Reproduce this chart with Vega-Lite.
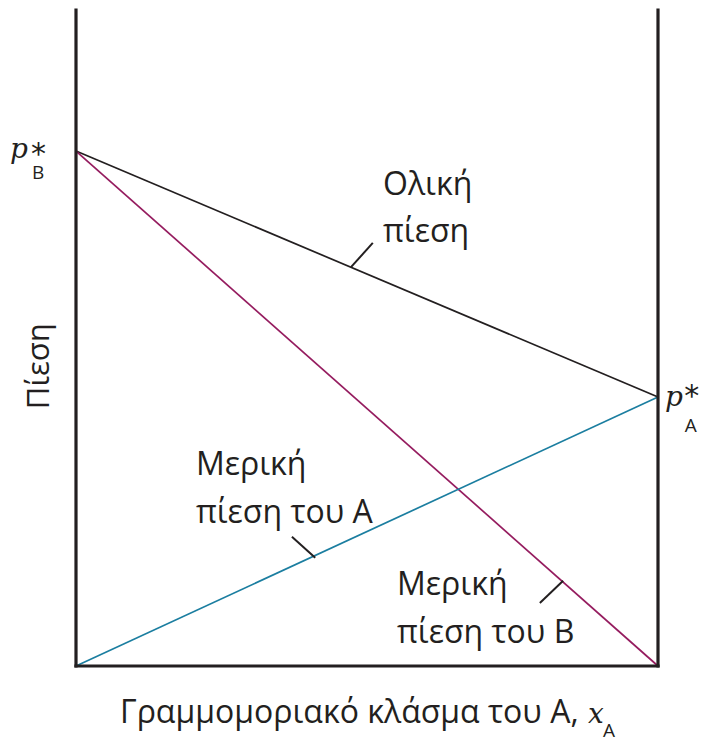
{
  "$schema": "https://vega.github.io/schema/vega-lite/v6.json",
  "width": 582,
  "height": 656,
  "autosize": {"type": "none"},
  "padding": {"left": 76, "top": 10, "right": 46, "bottom": 74},
  "background": "white",
  "config": {"view": {"stroke": null}},
  "datasets": {
    "curves": [
      {"curve": "total", "xA": 0, "p": 0.785},
      {"curve": "total", "xA": 1, "p": 0.41},
      {"curve": "B", "xA": 0, "p": 0.785},
      {"curve": "B", "xA": 1, "p": 0},
      {"curve": "A", "xA": 0, "p": 0},
      {"curve": "A", "xA": 1, "p": 0.41}
    ],
    "leaders": [
      {"id": "total", "xA": 0.4725, "p": 0.608},
      {"id": "total", "xA": 0.51, "p": 0.645},
      {"id": "A", "xA": 0.371, "p": 0.197},
      {"id": "A", "xA": 0.411, "p": 0.165},
      {"id": "B", "xA": 0.797, "p": 0.096},
      {"id": "B", "xA": 0.837, "p": 0.13}
    ],
    "sides": [{"xA": 0}, {"xA": 1}],
    "floor": [{"p": 0}],
    "labels": [
      {"text": "Ολική", "xA": 0.5275, "p": 0.718},
      {"text": "πίεση", "xA": 0.5275, "p": 0.646},
      {"text": "Μερική", "xA": 0.206, "p": 0.291},
      {"text": "πίεση του A", "xA": 0.206, "p": 0.218},
      {"text": "Μερική", "xA": 0.5515, "p": 0.108},
      {"text": "πίεση του B", "xA": 0.5515, "p": 0.035},
      {"text": "Γραμμομοριακό κλάσμα του A,", "xA": 0.0756, "p": -0.0869}
    ],
    "symbols": [
      {"text": "p", "xA": -0.1134, "p": 0.774},
      {"text": "p", "xA": 1.012, "p": 0.396},
      {"text": "x", "xA": 0.8797, "p": -0.0869}
    ],
    "stars": [
      {"text": "*", "xA": -0.0773, "p": 0.765},
      {"text": "*", "xA": 1.045, "p": 0.396}
    ],
    "subscripts": [
      {"text": "B", "xA": -0.0756, "p": 0.742},
      {"text": "A", "xA": 1.046, "p": 0.357},
      {"text": "A", "xA": 0.9055, "p": -0.108}
    ],
    "ytitle": [{"text": "Πίεση", "xA": -0.0464, "p": 0.457}]
  },
  "layer": [
    {
      "data": {"name": "curves"},
      "mark": {"type": "line", "strokeWidth": 1.7},
      "encoding": {
        "x": {"field": "xA", "type": "quantitative", "scale": {"domain": [0, 1], "nice": false, "zero": false}, "axis": null},
        "y": {"field": "p", "type": "quantitative", "scale": {"domain": [0, 1], "nice": false, "zero": false}, "axis": null},
        "color": {"field": "curve", "type": "nominal", "scale": {"domain": ["total", "A", "B"], "range": ["#231f20", "#1b7ea0", "#951c5f"]}, "legend": null}
      }
    },
    {
      "data": {"name": "leaders"},
      "mark": {"type": "line", "strokeWidth": 2, "color": "#231f20"},
      "encoding": {
        "x": {"field": "xA", "type": "quantitative"},
        "y": {"field": "p", "type": "quantitative"},
        "detail": {"field": "id"}
      }
    },
    {
      "data": {"name": "sides"},
      "mark": {"type": "rule", "strokeWidth": 3.2, "color": "#231f20", "strokeCap": "square"},
      "encoding": {"x": {"field": "xA", "type": "quantitative"}}
    },
    {
      "data": {"name": "floor"},
      "mark": {"type": "rule", "strokeWidth": 3.2, "color": "#231f20", "strokeCap": "square"},
      "encoding": {"y": {"field": "p", "type": "quantitative"}}
    },
    {
      "data": {"name": "labels"},
      "mark": {"type": "text", "align": "left", "baseline": "alphabetic", "font": "Open Sans", "fontSize": 32, "color": "#231f20"},
      "encoding": {
        "x": {"field": "xA", "type": "quantitative"},
        "y": {"field": "p", "type": "quantitative"},
        "text": {"field": "text"}
      }
    },
    {
      "data": {"name": "symbols"},
      "mark": {"type": "text", "align": "left", "baseline": "alphabetic", "font": "DejaVu Serif", "fontStyle": "italic", "fontSize": 28, "color": "#231f20"},
      "encoding": {
        "x": {"field": "xA", "type": "quantitative"},
        "y": {"field": "p", "type": "quantitative"},
        "text": {"field": "text"}
      }
    },
    {
      "data": {"name": "stars"},
      "mark": {"type": "text", "align": "left", "baseline": "alphabetic", "font": "DejaVu Sans", "fontSize": 30, "color": "#231f20"},
      "encoding": {
        "x": {"field": "xA", "type": "quantitative"},
        "y": {"field": "p", "type": "quantitative"},
        "text": {"field": "text"}
      }
    },
    {
      "data": {"name": "subscripts"},
      "mark": {"type": "text", "align": "left", "baseline": "alphabetic", "font": "Open Sans", "fontSize": 19, "color": "#231f20"},
      "encoding": {
        "x": {"field": "xA", "type": "quantitative"},
        "y": {"field": "p", "type": "quantitative"},
        "text": {"field": "text"}
      }
    },
    {
      "data": {"name": "ytitle"},
      "mark": {"type": "text", "align": "center", "baseline": "alphabetic", "angle": 270, "font": "Open Sans", "fontSize": 31, "color": "#231f20"},
      "encoding": {
        "x": {"field": "xA", "type": "quantitative"},
        "y": {"field": "p", "type": "quantitative"},
        "text": {"field": "text"}
      }
    }
  ]
}
